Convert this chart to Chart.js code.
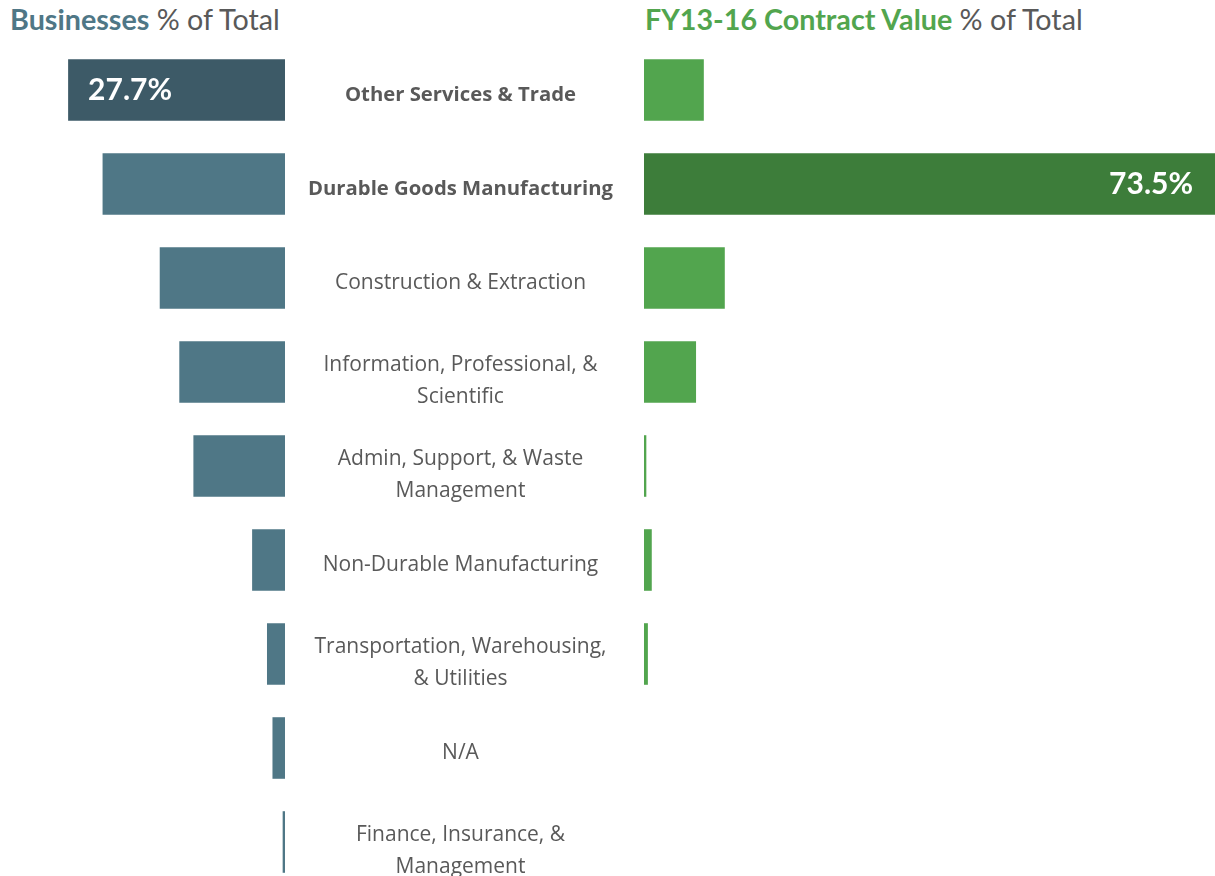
<!DOCTYPE html>
<html>
<head>
<meta charset="utf-8">
<script src="https://cdn.jsdelivr.net/npm/chart.js@4/dist/chart.umd.min.js"></script>
<style>
  body { margin: 0; width: 1215px; height: 876px; overflow: hidden; background: #fff; font-family: Lato, "Open Sans", sans-serif; }
  .title { position: absolute; top: 2px; font-size: 28.7px; color: #595959; white-space: nowrap; }
  .title b { font-weight: 700; }
  #wrap { position: absolute; left: 0; top: 0; width: 1215px; height: 900px; }
</style>
</head>
<body>
<div class="title" style="left:10px"><b style="color:#4f7786">Businesses</b> % of Total</div>
<div class="title" style="left:645px"><b style="color:#52a54e">FY13-16 Contract Value</b> % of Total</div>
<div id="wrap"><canvas id="chart"></canvas></div>
<script>
// Categories (multi-line labels as arrays)
const categories = [
    ['Other Services & Trade'],
    ['Durable Goods Manufacturing'],
    ['Construction & Extraction'],
    ['Information, Professional, &', 'Scientific'],
    ['Admin, Support, & Waste', 'Management'],
    ['Non-Durable Manufacturing'],
    ['Transportation, Warehousing,', '& Utilities'],
    ['N/A'],
    ['Finance, Insurance, &', 'Management']
];
const businessPct = [27.7, 23.3, 16.0, 13.5, 11.7, 4.2, 2.3, 1.6, 0.3];
const contractPct = [7.7, 73.5, 10.4, 6.7, 0.3, 1.0, 0.5, 0, 0];

// which rows get highlighted (bold label + dark bar + value label)
const boldRows = [0, 1];
const businessHighlight = 0;
const contractHighlight = 1;

const blue = '#4f7786', blueDark = '#3d5a67';
const green = '#52a54e', greenDark = '#3d7d3a';

// Draw the middle category labels and the value labels inside highlighted bars
const labelPlugin = {
    id: 'labels',
    afterDatasetsDraw(chart) {
        const ctx = chart.ctx;
        const y = chart.scales.y;
        const mid = chart.scales.xM;
        const cx = (mid.left + mid.right) / 2 - 4;
        ctx.save();
        ctx.textAlign = 'center';
        ctx.textBaseline = 'middle';
        ctx.fillStyle = '#595959';
        categories.forEach((lines, i) => {
            const isBold = boldRows.includes(i);
            ctx.font = isBold ? 'bold 20.3px "Open Sans", Lato, sans-serif' : '21px "Open Sans", Lato, sans-serif';
            const yc = y.getPixelForValue(i);
            const lh = 32;
            const start = yc + (lines.length > 1 ? 9 - lh / 2 : 5);
            lines.forEach((t, j) => ctx.fillText(t, cx, start + j * lh));
        });

        // value labels
        ctx.font = 'bold 30px Lato, "Open Sans", sans-serif';
        ctx.fillStyle = '#fff';
        const barL = chart.getDatasetMeta(0).data[businessHighlight];
        ctx.textAlign = 'left';
        ctx.fillText(businessPct[businessHighlight].toFixed(1) + '%', barL.x + 20, barL.y);
        const barR = chart.getDatasetMeta(1).data[contractHighlight];
        ctx.textAlign = 'right';
        ctx.fillText(contractPct[contractHighlight].toFixed(1) + '%', barR.x - 22, barR.y);
        ctx.restore();
    }
};

new Chart(document.getElementById('chart'), {
    type: 'bar',
    data: {
        labels: categories.map(c => c.join(' ')),
        datasets: [{
            data: businessPct,
            xAxisID: 'xL',
            backgroundColor: businessPct.map((v, i) => i === businessHighlight ? blueDark : blue),
            grouped: false
        }, {
            data: contractPct,
            xAxisID: 'xR',
            backgroundColor: contractPct.map((v, i) => i === contractHighlight ? greenDark : green),
            grouped: false
        }]
    },
    options: {
        indexAxis: 'y',
        responsive: true,
        maintainAspectRatio: false,
        animation: false,
        barPercentage: 0.655,
        categoryPercentage: 1,
        layout: {
            padding: { top: 43, bottom: 11, left: 0, right: 0 }
        },
        plugins: {
            legend: { display: false },
            tooltip: { enabled: false }
        },
        scales: {
            y: { display: false },
            xL: {
                type: 'linear', position: 'bottom', stack: 'row', stackWeight: 285,
                reverse: true, min: 0, max: 36.4, display: false
            },
            xM: {
                type: 'linear', position: 'bottom', stack: 'row', stackWeight: 359,
                min: 0, max: 1, display: false
            },
            xR: {
                type: 'linear', position: 'bottom', stack: 'row', stackWeight: 571,
                min: 0, max: 73.5, display: false
            }
        }
    },
    plugins: [labelPlugin]
});
</script>
</body>
</html>
